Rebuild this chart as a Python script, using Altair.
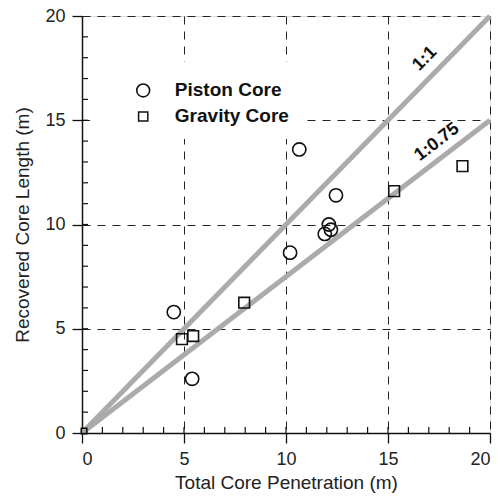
import altair as alt
import pandas as pd

# Piston cores (open circles)
piston_x = [4.5, 5.4, 10.2, 10.65, 11.9, 12.1, 12.2, 12.45]
piston_y = [5.8, 2.6, 8.65, 13.6, 9.55, 10.0, 9.75, 11.4]

# Gravity cores (open squares)
gravity_x = [0.1, 4.9, 5.45, 7.95, 15.3, 18.65]
gravity_y = [0.1, 4.5, 4.65, 6.25, 11.6, 12.8]

# Reference recovery ratios
ratio_names = ["1:1", "1:0.75"]
ratio_slopes = [1.0, 0.75]
x_max = 20

major_ticks = [0, 5, 10, 15, 20]
minor_ticks = list(range(1, 20))

legend_names = ["Piston Core", "Gravity Core"]

FONT = "Liberation Sans"
W, H = 408, 417

xs = alt.Scale(domain=[0, 20], nice=False)
ys = alt.Scale(domain=[0, 20], nice=False)

line_rows = []
for name, s in zip(ratio_names, ratio_slopes):
    line_rows += [{"ratio": name, "x": 0, "y": 0}, {"ratio": name, "x": x_max, "y": x_max * s}]
lines_df = pd.DataFrame(line_rows)

piston_df = pd.DataFrame({"x": piston_x, "y": piston_y})
gravity_df = pd.DataFrame({"x": gravity_x, "y": gravity_y})

axis_style = dict(values=major_ticks, grid=True, gridDash=[8, 7], gridColor="#222", gridWidth=1,
                  tickSize=10, tickColor="#111", tickWidth=1.3, domainColor="#111",
                  domainWidth=1.5, labelFontSize=18, labelColor="#222",
                  labelFont=FONT, titleFont=FONT, titleFontSize=19, titleFontWeight="normal",
                  titleColor="#222")
x_axis = alt.Axis(title="Total Core Penetration (m)", labelPadding=7, titlePadding=5, **axis_style)
y_axis = alt.Axis(title="Recovered Core Length (m)", labelPadding=7, titlePadding=12, **axis_style)

ref_lines = alt.Chart(lines_df).mark_line(color="#ababab", strokeWidth=5).encode(
    x=alt.X("x:Q", scale=xs, axis=x_axis),
    y=alt.Y("y:Q", scale=ys, axis=y_axis),
    detail="ratio:N",
)

# White box behind the legend interrupts the grid
legend_box = alt.Chart(pd.DataFrame({"x": [0.4], "x2": [10.8], "y": [14.1], "y2": [17.8]})).mark_rect(
    color="white").encode(x=alt.X("x:Q", scale=xs), x2="x2:Q", y=alt.Y("y:Q", scale=ys), y2="y2:Q")

pistons = alt.Chart(piston_df).mark_point(
    shape="circle", filled=False, color="#111", strokeWidth=1.6, size=175, opacity=1
).encode(x=alt.X("x:Q", scale=xs), y=alt.Y("y:Q", scale=ys))

gravities = alt.Chart(gravity_df).mark_point(
    shape="square", filled=False, color="#111", strokeWidth=1.6, opacity=1
).encode(
    x=alt.X("x:Q", scale=xs), y=alt.Y("y:Q", scale=ys),
    size=alt.condition("datum.x < 1", alt.value(30), alt.value(115)),
)

# Ratio labels placed along each line
label_df = pd.DataFrame({
    "name": ratio_names,
    "x": [16.8, 17.4],
    "y": [17.95, 13.95],
    "angle": [314.4, 322.6],
})
ratio_labels = alt.Chart(label_df).mark_text(
    font=FONT, fontSize=18, fontWeight="bold", color="#111", align="center", baseline="middle"
).encode(x=alt.X("x:Q", scale=xs), y=alt.Y("y:Q", scale=ys), text="name:N",
         angle=alt.Angle("angle:Q", scale=None))

# Legend drawn inside the plot
leg_df = pd.DataFrame({"name": legend_names, "x": [3.0, 3.0], "y": [16.43, 15.18], "tx": [4.55, 4.55]})
leg_circle = alt.Chart(leg_df.iloc[[0]]).mark_point(
    shape="circle", filled=False, color="#111", strokeWidth=1.6, size=165, opacity=1
).encode(x=alt.X("x:Q", scale=xs), y=alt.Y("y:Q", scale=ys))
leg_square = alt.Chart(leg_df.iloc[[1]]).mark_point(
    shape="square", filled=False, color="#111", strokeWidth=1.5, size=85, opacity=1
).encode(x=alt.X("x:Q", scale=xs), y=alt.Y("y:Q", scale=ys))
leg_text = alt.Chart(leg_df).mark_text(
    font=FONT, fontSize=19, fontWeight="bold", color="#111", align="left", baseline="middle"
).encode(x=alt.X("tx:Q", scale=xs), y=alt.Y("y:Q", scale=ys), text="name:N")

# Inward minor ticks on both axes
minor_df = pd.DataFrame({"v": minor_ticks})
x_minor = alt.Chart(minor_df).mark_rule(color="#111", strokeWidth=1.2).encode(
    x=alt.X("v:Q", scale=xs), y=alt.value(H), y2=alt.value(H - 6))
y_minor = alt.Chart(minor_df).mark_rule(color="#111", strokeWidth=1.2).encode(
    y=alt.Y("v:Q", scale=ys), x=alt.value(0), x2=alt.value(6))

chart = alt.layer(
    ref_lines, legend_box, x_minor, y_minor, pistons, gravities, ratio_labels,
    leg_circle, leg_square, leg_text
).properties(
    width=W, height=H,
    autosize=alt.AutoSizeParams(type="none"),
    padding={"left": 82, "top": 16, "right": 11, "bottom": 69},
).configure_view(stroke="#111", strokeWidth=1.5).configure(background="white")

chart.save("out.html", embed_options={"renderer": "svg", "actions": False})
